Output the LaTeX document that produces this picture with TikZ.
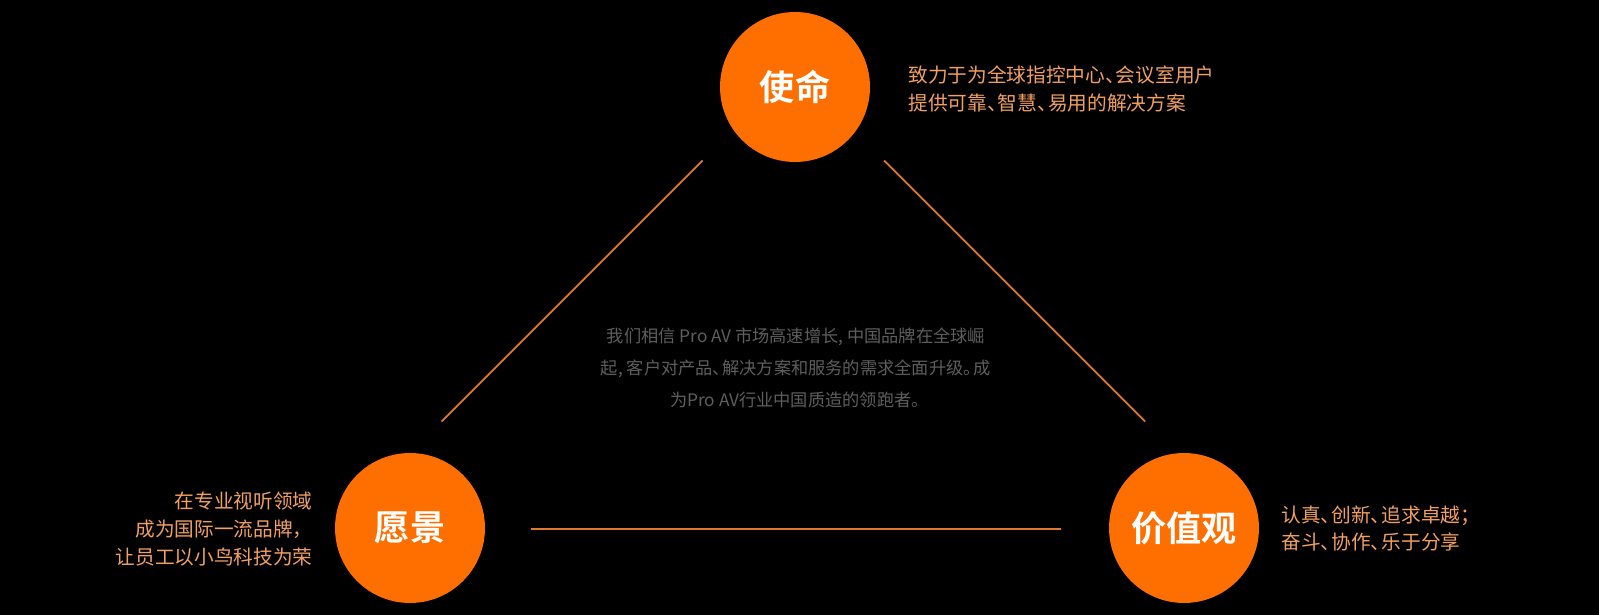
\documentclass[tikz,border=0pt]{standalone}
\usepackage{fontspec}
\setmainfont{Noto Sans CJK SC}
\newfontfamily\cjkbold{Noto Sans CJK SC Bold}
\usepackage{xcolor}
\usetikzlibrary{positioning}
\definecolor{BrandOrange}{HTML}{FF6F00}
\definecolor{SoftOrange}{HTML}{F2A062}
\definecolor{LineOrange}{HTML}{E07A2A}
\definecolor{DimGray}{HTML}{5E5E5E}
% half-width punctuation
\newcommand{\dun}{、\kern-.45em}
\newcommand{\juhao}{。\kern-.4em}

\tikzset{
  bigdot/.style={circle, fill=BrandOrange, minimum size=3cm, inner sep=0pt, text=white, font=\cjkbold\fontsize{20}{22}\selectfont},
  note/.style={text=SoftOrange, font=\fontsize{11.2}{15.9}\selectfont, inner sep=0pt},
  link/.style={LineOrange, line width=1pt}
}

\begin{document}
\begin{tikzpicture}[x=0.02cm, y=-0.02cm]
  \fill[black] (0,0) rectangle (1599,615);

  % the three circles
  \node[bigdot] (mission) at (795,87) {使命};
  \node[bigdot] (vision) at (410,528) {愿景};
  \node[bigdot] (values) at (1184,528) {价值观};

  % connecting lines
  \coordinate (visionEnd) at (441.5,421.5);
  \coordinate (missionLeft) at (702.5,160.5);
  \coordinate (missionRight) at (884,160.5);
  \coordinate (valuesEnd) at (1145,421.5);
  \coordinate (visionRight) at (531,529);
  \coordinate (valuesLeft) at (1061,529);
  \foreach \from/\to in {visionEnd/missionLeft, missionRight/valuesEnd, visionRight/valuesLeft}
    \draw[link] (\from) -- (\to);

  % explanations
  \node[note, anchor=west, align=left] (missionText) at (908,89) {致力于为全球指控中心\dun 会议室用户\\提供可靠\dun 智慧\dun 易用的解决方案};
  \node[note, anchor=east, align=right] (visionText) at (313,529) {在专业视听领域\\成为国际一流品牌，\\让员工以小鸟科技为荣};
  \node[note, anchor=west, align=left] (valuesText) at (1281,528.5) {认真\dun 创新\dun 追求卓越；\\奋斗\dun 协作\dun 乐于分享};

  \node[text=DimGray, align=center, font=\fontsize{9.8}{18.1}\selectfont, inner sep=0pt] (belief) at (796,368)
    {我们相信 Pro AV 市场高速增长, 中国品牌在全球崛\\起, 客户对产品\dun 解决方案和服务的需求全面升级\juhao 成\\为Pro AV行业中国质造的领跑者\juhao};
\end{tikzpicture}
\end{document}
